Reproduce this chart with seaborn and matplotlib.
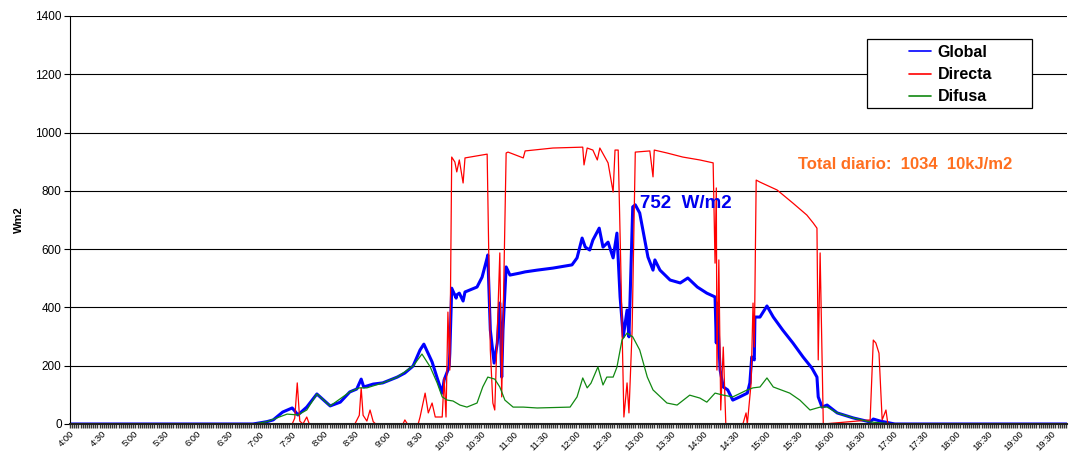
import numpy as np
import pandas as pd
import seaborn as sns
import matplotlib.pyplot as plt
from matplotlib.patches import Rectangle
from matplotlib.ticker import MultipleLocator

# hours of day (decimal) and W/m2
global_t = [4.00, 6.89, 7.11, 7.21, 7.36, 7.51, 7.55, 7.60, 7.74, 7.90, 8.11, 8.27, 8.42, 8.53,
            8.60, 8.64, 8.79, 8.94, 9.17, 9.29, 9.42, 9.53, 9.59, 9.72, 9.80, 9.88, 9.91, 9.97,
            9.99, 10.00, 10.03, 10.10, 10.11, 10.15, 10.21, 10.24, 10.43, 10.51, 10.59, 10.60,
            10.64, 10.70, 10.75, 10.79, 10.82, 10.84, 10.89, 10.95, 11.11, 11.19, 11.38, 11.63,
            11.93, 12.01, 12.09, 12.14, 12.21, 12.26, 12.36, 12.42, 12.50, 12.58, 12.64, 12.69,
            12.74, 12.80, 12.83, 12.89, 12.93, 13.00, 13.13, 13.21, 13.24, 13.32, 13.48, 13.64,
            13.76, 13.91, 14.06, 14.19, 14.21, 14.22, 14.27, 14.32, 14.39, 14.47, 14.58, 14.70,
            14.74, 14.77, 14.81, 14.82, 14.90, 15.01, 15.11, 15.26, 15.42, 15.58, 15.72, 15.80,
            15.82, 15.88, 15.96, 16.12, 16.37, 16.64, 16.69, 16.80, 17.03, 19.75]
global_v = [0, 0, 8, 14, 41, 55, 45, 31, 58, 103, 62, 75, 110, 120,
            154, 127, 137, 141, 161, 175, 199, 254, 274, 213, 158, 106, 151, 185,
            200, 243, 466, 432, 443, 449, 422, 453, 470, 504, 570, 580,
            322, 209, 278, 415, 161, 322, 539, 511, 518, 522, 528, 535,
            546, 570, 638, 607, 597, 631, 672, 607, 624, 570, 655, 436,
            299, 391, 299, 745, 752, 724, 573, 528, 563, 528, 494, 484,
            501, 470, 449, 436, 278, 415, 185, 127, 117, 82, 93, 106,
            141, 230, 220, 367, 367, 405, 367, 322, 278, 230, 192, 161,
            93, 58, 65, 38, 21, 7, 17, 10, 0, 0]

directa_t = [4.00, 7.51, 7.55, 7.59, 7.63, 7.68, 7.74, 7.78, 8.50, 8.57, 8.60, 8.63, 8.69, 8.74,
             8.79, 8.83, 9.26, 9.29, 9.33, 9.50, 9.53, 9.61, 9.66, 9.72, 9.77, 9.88, 9.91, 9.94,
             9.97, 10.00, 10.03, 10.08, 10.11, 10.15, 10.21, 10.24, 10.59, 10.64, 10.68, 10.71,
             10.79, 10.82, 10.89, 10.92, 11.16, 11.19, 11.63, 12.10, 12.12, 12.17, 12.26, 12.33,
             12.37, 12.50, 12.58, 12.61, 12.66, 12.70, 12.75, 12.80, 12.83, 12.88, 12.93, 13.16,
             13.21, 13.23, 13.43, 13.68, 13.95, 14.16, 14.19, 14.21, 14.22, 14.25, 14.28, 14.32,
             14.36, 14.63, 14.68, 14.70, 14.76, 14.79, 14.81, 14.84, 14.90, 15.17, 15.42, 15.64,
             15.74, 15.80, 15.82, 15.85, 15.90, 16.64, 16.69, 16.73, 16.78, 16.83, 16.89, 16.92,
             19.75]
directa_v = [0, 0, 20, 141, 10, 0, 24, 0, 0, 30, 124, 30, 10, 48,
             8, 0, 0, 14, 0, 0, 24, 106, 38, 72, 24, 24, 158, 24,
             384, 185, 916, 899, 865, 906, 827, 913, 926, 254, 72, 48,
             587, 93, 930, 933, 913, 937, 947, 950, 889, 947, 940, 906,
             947, 896, 796, 940, 940, 552, 24, 141, 38, 322, 933, 937,
             848, 940, 930, 916, 906, 896, 552, 810, 185, 563, 48, 264,
             0, 0, 38, 0, 141, 415, 264, 837, 830, 803, 758, 717,
             690, 672, 220, 587, 0, 14, 288, 278, 243, 14, 48, 0,
             0]

difusa_t = [4.00, 6.89, 7.11, 7.27, 7.43, 7.60, 7.74, 7.90, 8.11, 8.42, 8.57, 8.69, 8.94, 9.17,
            9.42, 9.56, 9.69, 9.80, 9.88, 9.96, 10.05, 10.16, 10.27, 10.43, 10.52, 10.60, 10.71,
            10.79, 10.87, 11.00, 11.16, 11.38, 11.90, 12.01, 12.10, 12.17, 12.23, 12.34, 12.42,
            12.48, 12.58, 12.64, 12.72, 12.80, 12.89, 13.00, 13.12, 13.21, 13.43, 13.59, 13.79,
            13.95, 14.06, 14.19, 14.32, 14.47, 14.70, 14.79, 14.90, 15.01, 15.11, 15.37, 15.53,
            15.69, 15.85, 15.96, 16.12, 16.37, 16.64, 17.03, 19.75]
difusa_v = [0, 0, 8, 21, 34, 31, 48, 103, 62, 110, 124, 124, 141, 161,
            199, 240, 196, 141, 93, 82, 79, 65, 58, 72, 127, 161, 154,
            127, 82, 58, 58, 55, 58, 93, 158, 124, 140, 196, 134,
            161, 161, 195, 288, 312, 299, 254, 161, 117, 72, 65, 99,
            89, 75, 106, 99, 93, 117, 124, 127, 158, 127, 106, 82,
            48, 58, 58, 38, 21, 7, 0, 0]

tick_hours = np.arange(4, 20, 0.5)
tick_labels = [f"{int(h)}:{'30' if h % 1 else '00'}" for h in tick_hours]

sns.set_style('white')
plt.rcParams['font.family'] = ['Liberation Sans', 'DejaVu Sans']

fig = plt.figure(figsize=(10.71, 4.54), dpi=100)
ax = fig.add_axes([70 / 1071, 30 / 454, 997 / 1071, 408 / 454])

sns.lineplot(x=global_t, y=global_v, ax=ax, color='#0000FF', linewidth=2.2,
             estimator=None, sort=False, label='Global')
sns.lineplot(x=directa_t, y=directa_v, ax=ax, color='#FF0000', linewidth=0.9,
             estimator=None, sort=False, label='Directa')
sns.lineplot(x=difusa_t, y=difusa_v, ax=ax, color='#118811', linewidth=0.9,
             estimator=None, sort=False, label='Difusa')

ax.set_xlim(4, 19.75)
ax.set_ylim(0, 1400)
ax.set_yticks(range(0, 1401, 200))
ax.yaxis.grid(True, color='black', linewidth=0.8)
ax.set_axisbelow(True)
ax.set_xticks(tick_hours)
ax.set_xticklabels(tick_labels, rotation=45, ha='right', rotation_mode='anchor', fontsize=6.8)
ax.xaxis.set_minor_locator(MultipleLocator(1 / 30))
ax.tick_params(axis='x', which='both', bottom=True, direction='out', length=3, width=1,
               color='#333333', labelcolor='black', pad=1)
ax.tick_params(axis='y', left=True, direction='out', length=4, width=0.8, color='black',
               labelcolor='black', labelsize=8.5, pad=2)
for s in ['top', 'right']:
    ax.spines[s].set_visible(False)
ax.spines['left'].set_color('black')
ax.spines['bottom'].set_color('#222222')
ax.spines['bottom'].set_linewidth(1.5)
ax.set_xlabel('')
ax.set_ylabel('Wm2', fontsize=8, fontweight='bold', color='black', labelpad=8)

ax.text(13.005, 758, '752  W/m2', color='#0000EE', fontsize=13.5, fontweight='bold',
        ha='left', va='center')
ax.text(15.50, 889, 'Total diario:  1034  10kJ/m2', color='#FF6F1F', fontsize=12,
        fontweight='bold', ha='left', va='center')

# legend box
ax.add_patch(Rectangle((0.799, 0.775), 0.166, 0.169, transform=ax.transAxes,
                       facecolor='white', edgecolor='black', linewidth=0.9, zorder=5))
leg = ax.legend(loc='center', bbox_to_anchor=(0.883, 0.856), frameon=False,
                prop={'weight': 'bold', 'size': 11.5}, handlelength=1.4, handletextpad=0.4,
                labelspacing=0.45, labelcolor='black')
leg.set_zorder(6)
for h in leg.get_lines():
    h.set_linewidth(1.2)

fig.savefig('out.png', dpi=100)
